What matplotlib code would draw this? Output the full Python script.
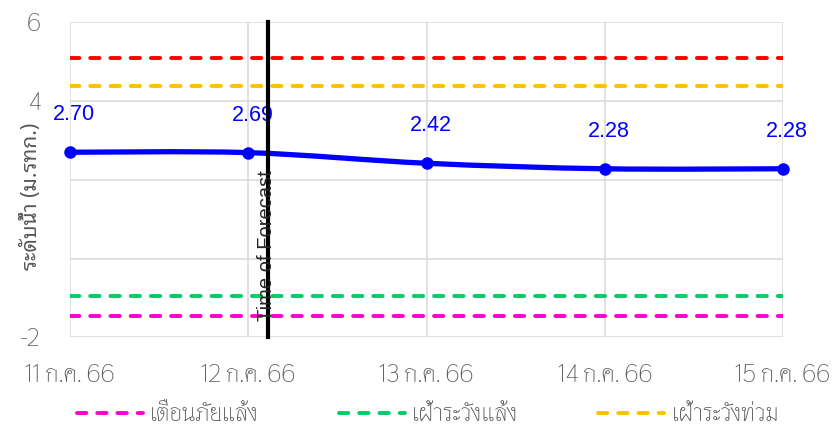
import matplotlib
matplotlib.use('Agg')

import numpy as np
import matplotlib.pyplot as plt
from matplotlib.path import Path
from matplotlib.patches import PathPatch
from matplotlib.lines import Line2D

# ==========================================
# DATA
# ==========================================

dates = ["11 ก.ค. 66", "12 ก.ค. 66", "13 ก.ค. 66", "14 ก.ค. 66", "15 ก.ค. 66"]
levels = [2.70, 2.69, 2.42, 2.28, 2.28]

# threshold lines (m. MSL)
flood_alert = 5.10       # red, not in legend
flood_watch = 4.37       # orange
drought_watch = -0.95    # green
drought_alert = -1.45    # magenta

forecast_x = 1.11
y_ticks = [-2, 0, 2, 4, 6]
y_ticklabels = ["-2", "", "", "4", "6"]

THAI = ["Thasadith", "DejaVu Sans"]
THAI_LOOPED = ["Noto Sans Thai Looped", "DejaVu Sans"]
GRAY = "#595959"

# ==========================================
# FIGURE
# ==========================================

fig = plt.figure(figsize=(8.34, 4.29), dpi=100)
ax = fig.add_axes([70 / 834, 1 - 337.3 / 429, 713 / 834, 315 / 429])

x = np.arange(len(dates))

ax.set_xlim(0, len(dates) - 1)
ax.set_ylim(-2, 6)

ax.set_xticks(x)
ax.set_xticklabels(dates, family=THAI, fontsize=17.5, color=GRAY)
ax.set_yticks(y_ticks)
ax.set_yticklabels(y_ticklabels, family=THAI, fontsize=17.5, color=GRAY)
ax.tick_params(axis="x", length=0, pad=19)
ax.tick_params(axis="y", length=0, pad=21)

ax.grid(True, color="#d9d9d9", linewidth=1.1)
ax.set_axisbelow(True)
for s in ax.spines.values():
    s.set_visible(False)

# ==========================================
# THRESHOLD LINES
# ==========================================

dash = (0, (2.4, 2.8))
lines_cfg = [
    (flood_alert, "#ff0000", None),
    (flood_watch, "#ffc000", "เฝ้าระวังท่วม"),
    (drought_watch, "#00cc66", "เฝ้าระวังแล้ง"),
    (drought_alert, "#ff00cc", "เตือนภัยแล้ง"),
]
for val, col, lab in lines_cfg:
    ax.axhline(val, color=col, linewidth=2.8, linestyle=dash,
               dash_capstyle="round", zorder=2)

# ==========================================
# WATER LEVEL (smoothed line)
# ==========================================

pts = np.column_stack([x, levels]).astype(float)
n = len(pts)
verts = [pts[0]]
codes = [Path.MOVETO]
for i in range(n - 1):
    p0 = pts[max(i - 1, 0)]
    p1 = pts[i]
    p2 = pts[i + 1]
    p3 = pts[min(i + 2, n - 1)]
    c1 = p1 + (p2 - p0) / 6
    c2 = p2 - (p3 - p1) / 6
    verts += [c1, c2, p2]
    codes += [Path.CURVE4] * 3
ax.add_patch(PathPatch(Path(verts, codes), facecolor="none",
                       edgecolor="#0000ff", linewidth=3.8, zorder=4,
                       capstyle="round"))
ax.plot(x, levels, linestyle="none", marker="o", markersize=8,
        color="#0000ff", zorder=5, clip_on=False)

for xi, v in zip(x, levels):
    ax.annotate(f"{v:.2f}", (xi, v), xytext=(3, 27), textcoords="offset points",
                ha="center", va="center", color="#0000ff", fontsize=15.5,
                family="Liberation Sans", zorder=6, annotation_clip=False)

# ==========================================
# TIME OF FORECAST
# ==========================================

ax.axvline(forecast_x, color="black", linewidth=3, zorder=7, clip_on=False)
ax.text(forecast_x - 0.01, 0.33, "Time of Forecast", rotation=90,
        ha="center", va="center", fontsize=14.5, family="Liberation Sans",
        color="#262626", zorder=8)

# ==========================================
# LABELS / LEGEND
# ==========================================

fig.text(31 / 834, 1 - 196 / 429, "ระดับน้ำ (ม.รทก.)", rotation=90,
         ha="center", va="center", fontsize=15.2, family=THAI_LOOPED, color=GRAY)

handles = []
labels = []
for val, col, lab in reversed(lines_cfg):
    if lab is None:
        continue
    handles.append(Line2D([], [], color=col, linewidth=2.8, linestyle=dash,
                          dash_capstyle="round"))
    labels.append(lab)

leg = fig.legend(handles, labels, loc="center", bbox_to_anchor=(428 / 834, 1 - 414 / 429),
                 ncol=3, frameon=False, handlelength=2.7, handletextpad=0.3,
                 columnspacing=3.3, borderpad=0, prop={"family": THAI, "size": 17.5})
for t in leg.get_texts():
    t.set_color(GRAY)

fig.savefig("out.png", dpi=100)
